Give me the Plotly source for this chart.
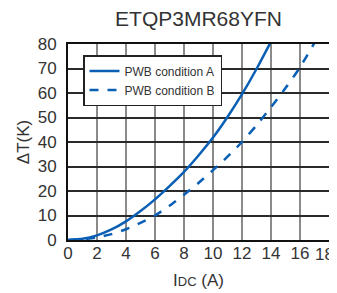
import plotly.graph_objects as go

current_a = [0, 1, 2, 3, 4, 5, 6, 7, 8, 9, 10, 11, 12, 13, 14]
temp_a = [0, 0.5, 1.9, 4.3, 7.6, 11.8, 16.6, 22.0, 27.8, 34.5, 41.8, 50.2, 59.5, 69.8, 81.0]
current_b = [0, 1, 2, 3, 4, 5, 6, 7, 8, 9, 10, 11, 12, 13, 14, 15, 16, 17, 17.5]
temp_b = [0, 0.3, 1.0, 2.4, 4.4, 7.0, 10.0, 14.0, 18.5, 23.3, 28.5, 34.0, 40.0, 46.8, 54.2, 62.0, 70.5, 80.5, 85.5]
x_ticks = [0, 2, 4, 6, 8, 10, 12, 14, 16, 18]
x_tick_text = ["0", "2", "4", "6", "8", "10", "12", "14", "16", "18"]
y_ticks = [0, 10, 20, 30, 40, 50, 60, 70, 80]

blue = "#0a5fb5"
fig = go.Figure()
fig.add_trace(go.Scatter(x=current_a, y=temp_a, mode="lines", name="PWB condition A",
                         line=dict(color=blue, width=2.5, shape="spline", smoothing=0.6)))
fig.add_trace(go.Scatter(x=current_b, y=temp_b, mode="lines", name="PWB condition B",
                         line=dict(color=blue, width=2.5, dash="dash", shape="spline", smoothing=0.6)))

# page body has an 8px margin, so the figure is offset by 8px right and down
W, H = 329, 285
L, R, T, B = 60, 8, 36, 53
plot_w = W - L - R
plot_h = H - T - B

# the last x tick label sits slightly left of its grid line (as in the reference),
# so it is drawn as an annotation tied to the axis value
axis_text = x_tick_text[:-1] + [""]
fig.add_annotation(x=x_ticks[-1], y=-14 / plot_h, xref="x", yref="paper",
                   text=x_tick_text[-1], showarrow=False, xanchor="center", yanchor="middle",
                   xshift=-5, font=dict(size=17, color="#333333"))

fig.update_layout(
    width=W, height=H,
    margin=dict(l=L, r=R, t=T, b=B, autoexpand=False),
    paper_bgcolor="white", plot_bgcolor="white",
    font=dict(family="Liberation Sans, Arial", color="#333333", size=17),
    title=dict(text="ETQP3MR68YFN", x=(L + plot_w / 2) / W, xanchor="center", y=1 - 11 / H, yanchor="middle",
               font=dict(size=21, color="#333333")),
    showlegend=True,
    legend=dict(x=15 / plot_w, y=1 - 11 / plot_h, xanchor="left", yanchor="top",
                bordercolor="#222222", borderwidth=1.5, bgcolor="white",
                font=dict(family="Liberation Sans, Arial", size=12, color="#333333"),
                itemwidth=30, tracegroupgap=0),
    xaxis=dict(range=[0, 18], tickvals=x_ticks, ticktext=axis_text, showgrid=True,
               gridcolor="#8a8a8a", gridwidth=1.5,
               showline=True, linecolor="#111111", linewidth=2, mirror=True, zeroline=False,
               ticks="", fixedrange=True, automargin=False, ticklabeloverflow="allow",
               ticklabelstandoff=-3,
               title=dict(text="I<span style='font-size:13px'>DC</span> (A)", standoff=12, font=dict(size=17))),
    yaxis=dict(range=[0, 80], tickvals=y_ticks, showgrid=True, gridcolor="#2a2a2a", gridwidth=1.5,
               showline=True, linecolor="#111111", linewidth=2, mirror=True, zeroline=False,
               ticks="", ticklabelstandoff=6, automargin=False, ticklabeloverflow="allow",
               title=dict(text="ΔT(K)", standoff=4, font=dict(size=17))),
)

fig.write_html("out.html")
